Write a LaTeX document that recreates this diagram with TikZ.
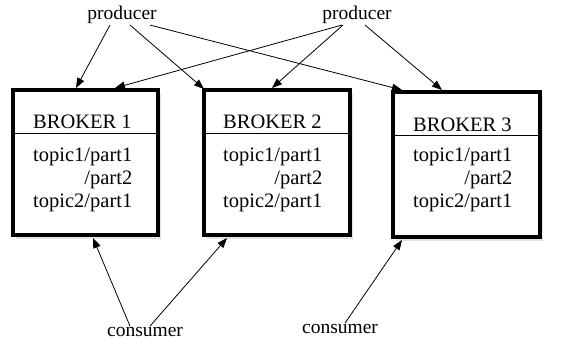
\documentclass[tikz,border=0pt]{standalone}
\usepackage{fontspec}
\setmainfont{Liberation Serif}
\usetikzlibrary{arrows.meta,shadows}
\begin{document}
\begin{tikzpicture}[x=1pt,y=-1pt,
  broker/.style={draw,line width=3.5pt,fill=white,minimum width=145pt,minimum height=145pt,inner sep=0pt,
     drop shadow={opacity=0.22,shadow xshift=3pt,shadow yshift=-4pt}},
  lbl/.style={font=\fontsize{20.5}{23}\selectfont,inner sep=0pt},
  ptxt/.style={font=\fontsize{19.5}{22}\selectfont,inner sep=1pt},
  arr/.style={line width=0.8pt,-{Triangle[length=10pt,width=7.5pt]}},
  hline/.style={line width=0.8pt}]
\useasboundingbox (0,0) rectangle (562,347);
% brokers
\node[broker] (b1) at (85.5,162.5) {};
\node[broker,minimum width=146pt] (b2) at (277,162.5) {};
\node[broker,minimum width=147pt] (b3) at (466.5,164.5) {};
% header lines
\coordinate (h1l) at (13,133); \coordinate (h1r) at (158,133);
\coordinate (h2l) at (204,133); \coordinate (h2r) at (350,133);
\coordinate (h3l) at (393,135); \coordinate (h3r) at (540,135);
\draw[hline] (h1l) -- (h1r);
\draw[hline] (h2l) -- (h2r);
\draw[hline] (h3l) -- (h3r);
% labels
\node[lbl,anchor=west] (t1) at (33,122) {BROKER 1};
\node[lbl,anchor=west] (t2) at (223,122) {BROKER 2};
\node[lbl,anchor=west] (t3) at (413,125) {BROKER 3};
\node[lbl,anchor=west,align=right] (c1) at (33,180) {topic1/part1\\/part2\\topic2/part1};
\node[lbl,anchor=west,align=right] (c2) at (223,180) {topic1/part1\\/part2\\topic2/part1};
\node[lbl,anchor=west,align=right] (c3) at (413,180) {topic1/part1\\/part2\\topic2/part1};
% producers and consumers
\node[ptxt] (p1) at (122,15) {producer};
\node[ptxt] (p2) at (357,15) {producer};
\node[ptxt] (k1) at (145,332) {consumer};
\node[ptxt] (k2) at (340,329) {consumer};
% target points
\coordinate (b1a) at (76,88);
\coordinate (b1b) at (115,88);
\coordinate (b2a) at (204,89);
\coordinate (b2b) at (272,88);
\coordinate (b3a) at (402,90);
\coordinate (b3b) at (442,90);
\coordinate (b1c) at (93,238);
\coordinate (b2c) at (227,238);
\coordinate (b3c) at (402,240);
% producer arrows
\draw[arr] (p1.south) ++(-12,0) coordinate (s11) -- (b1a);
\draw[arr] (p1.south) ++(8,0) coordinate (s12) -- (b2a);
\draw[arr] (p1.south) ++(28,0) coordinate (s13) -- (b3a);
\draw[arr] (p2.south) ++(-15,0) coordinate (s21) -- (b1b);
\draw[arr] (p2.south) ++(-14,0) coordinate (s22) -- (b2b);
\draw[arr] (p2.south) ++(8,0) coordinate (s23) -- (b3b);
% consumer arrows
\draw[arr] (k1.north) ++(-15,0) coordinate (q11) -- (b1c);
\draw[arr] (k1.north) ++(5,0) coordinate (q12) -- (b2c);
\draw[arr] (k2.north) ++(5,0) coordinate (q21) -- (b3c);
\end{tikzpicture}
\end{document}
